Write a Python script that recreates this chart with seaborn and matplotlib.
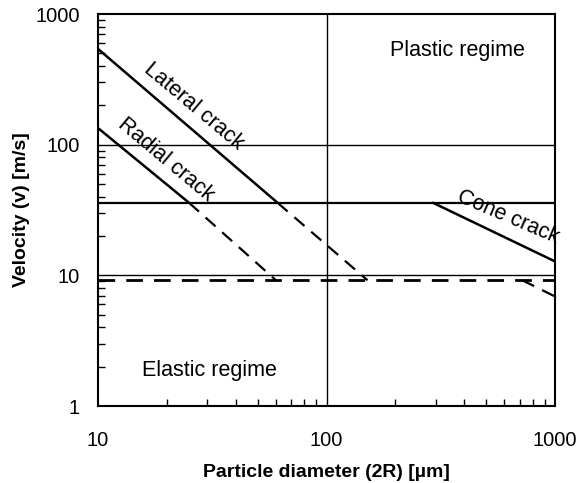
import matplotlib
matplotlib.use("Agg")
import matplotlib.pyplot as plt
from matplotlib.transforms import IdentityTransform
from matplotlib.ticker import LogLocator, NullFormatter, FixedLocator, FixedFormatter
import pandas as pd
import seaborn as sns

# Particle diameter (µm) and impact velocity (m/s) for each damage threshold
lateral_solid_x = [10, 61]
lateral_solid_y = [540, 36]
lateral_dash_x = [61, 151]
lateral_dash_y = [36, 9.2]

radial_solid_x = [10, 25]
radial_solid_y = [134, 36]
radial_dash_x = [25, 60]
radial_dash_y = [36, 9.2]

cone_solid_x = [292, 1000]
cone_solid_y = [36, 12.8]
cone_dash_x = [718, 1000]
cone_dash_y = [9.2, 6.9]

plastic_limit_x = [10, 1000]
plastic_limit_y = [36, 36]
elastic_limit_x = [10, 1000]
elastic_limit_y = [9.2, 9.2]

x_ticks = [10, 100, 1000]
y_ticks = [1, 10, 100, 1000]

sns.set_theme(style="white")
plt.rcParams["font.family"] = ["Liberation Sans", "DejaVu Sans"]
plt.rcParams["text.color"] = "black"
plt.rcParams["axes.labelcolor"] = "black"

W, H = 577, 483
fig = plt.figure(figsize=(W / 100, H / 100), dpi=100)
ax = fig.add_axes([0.170, 0.159, 0.792, 0.812])
ax.set_xscale("log")
ax.set_yscale("log")
ax.set_xlim(10, 1000)
ax.set_ylim(1, 1000)

# Decade grid lines
for v in [10, 100]:
    ax.axhline(v, color="black", lw=1.0, zorder=1)
ax.axvline(100, color="black", lw=1.0, zorder=1)


def seg(xs, ys, dashed=False, lw=1.8):
    df = pd.DataFrame({"d": xs, "v": ys})
    sns.lineplot(data=df, x="d", y="v", ax=ax, color="black", lw=lw,
                 estimator=None, sort=False, zorder=3)
    if dashed:
        ax.lines[-1].set_dashes([6, 4])


seg(plastic_limit_x, plastic_limit_y, lw=1.6)
seg(elastic_limit_x, elastic_limit_y, dashed=True, lw=2.0)
seg(lateral_solid_x, lateral_solid_y)
seg(lateral_dash_x, lateral_dash_y, dashed=True, lw=1.6)
seg(radial_solid_x, radial_solid_y)
seg(radial_dash_x, radial_dash_y, dashed=True, lw=1.6)
seg(cone_solid_x, cone_solid_y)
seg(cone_dash_x, cone_dash_y, dashed=True, lw=1.6)

# Curve labels, placed in pixel space along each line
for label, px, py, rot in [("Lateral crack", 194, 106, -40),
                           ("Radial crack", 166, 160, -40),
                           ("Cone crack", 508, 217, -23)]:
    ax.text(px, H - py, label, transform=IdentityTransform(), fontsize=15.5,
            rotation=rot, rotation_mode="anchor", ha="center", va="center")

# Region labels
ax.text(0.786, 0.908, "Plastic regime", transform=ax.transAxes,
        fontsize=15.5, ha="center", va="center")
ax.text(0.243, 0.092, "Elastic regime", transform=ax.transAxes,
        fontsize=15.5, ha="center", va="center")

# Ticks: labels at decades, short inward minor ticks on left and bottom
ax.xaxis.set_major_locator(FixedLocator(x_ticks))
ax.xaxis.set_major_formatter(FixedFormatter([str(v) for v in x_ticks]))
ax.yaxis.set_major_locator(FixedLocator(y_ticks))
ax.yaxis.set_major_formatter(FixedFormatter([str(v) for v in y_ticks]))
ax.xaxis.set_minor_locator(LogLocator(base=10, subs=range(2, 10)))
ax.yaxis.set_minor_locator(LogLocator(base=10, subs=range(2, 10)))
ax.xaxis.set_minor_formatter(NullFormatter())
ax.yaxis.set_minor_formatter(NullFormatter())
ax.tick_params(axis="both", which="major", length=0, labelsize=14.5,
               colors="black")
ax.tick_params(axis="x", which="major", pad=18)
ax.tick_params(axis="y", which="major", pad=13)
ax.tick_params(axis="both", which="minor", direction="in", length=5,
               width=1.0, color="black", left=True, bottom=True)

for s in ax.spines.values():
    s.set_color("black")
    s.set_linewidth(1.5)

ax.set_xlabel("Particle diameter (2R) [µm]", fontsize=14,
              fontweight="bold", labelpad=10)
ax.set_ylabel("Velocity (v) [m/s]", fontsize=14, fontweight="bold",
              labelpad=4)

fig.savefig("out.png", dpi=100, facecolor="white")
